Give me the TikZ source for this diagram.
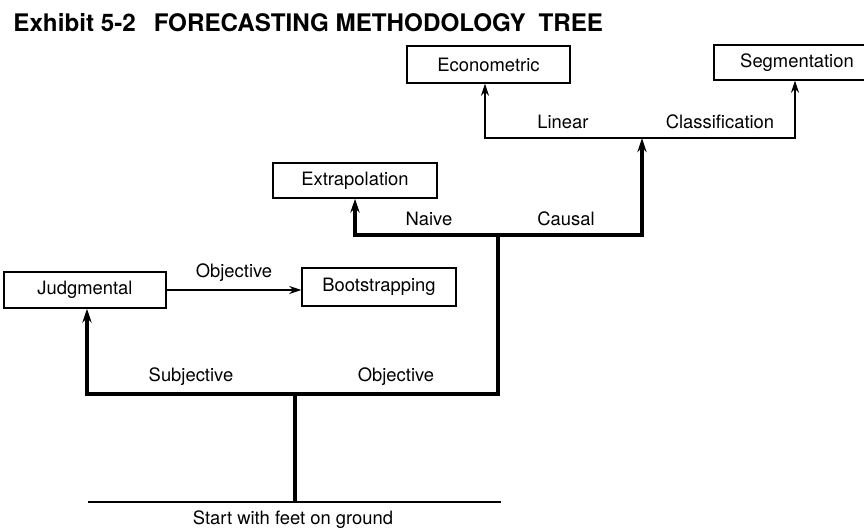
\documentclass[tikz,border=0pt]{standalone}
\usepackage{fontspec}
\setmainfont{TeX Gyre Heros}
\usetikzlibrary{arrows.meta}
\usetikzlibrary{calc}

\begin{document}
\begin{tikzpicture}[x={(0.5pt,0)},y={(0,-0.5pt)},
    box/.style={draw, line width=0.7pt, inner sep=0pt, font=\fontsize{9.2}{11}\selectfont},
    lbl/.style={inner sep=0pt, font=\fontsize{9.2}{11}\selectfont},
    trunk/.style={line width=2.4pt, line join=miter, arrows={-}, >={Stealth[length=7pt,width=4.6pt]}},
    branch/.style={line width=1.2pt, line join=miter, >={Stealth[length=6pt,width=4pt]}}]
        \useasboundingbox (0,0) rectangle (864,530);

        % title
        \node[anchor=base west, inner sep=0pt, font=\fontsize{12.1}{14}\selectfont\bfseries](title) at (13,32)
            {Exhibit 5-2\hspace{9pt}FORECASTING METHODOLOGY\hspace{3pt} TREE};

        % boxes
        \node[box, minimum width=81pt, minimum height=18pt](judg) at (85,290){Judgmental};
        \node[box, minimum width=77pt, minimum height=19pt](boot) at (379,287){Bootstrapping};
        \node[box, minimum width=82pt, minimum height=17.5pt](extra) at (355,180.5){Extrapolation};
        \node[box, minimum width=81.5pt, minimum height=18.5pt](econ) at (488.5,64.5){Econometric};
        \node[box, minimum width=83pt, minimum height=17.5pt](segm) at (797,62.5){Segmentation};

        % junctions
        \coordinate (gL) at (88,502);
        \coordinate (gR) at (501,502);
        \coordinate (root) at (295,502);
        \coordinate (j1) at (295,394);
        \coordinate (j1L) at (87,394);
        \coordinate (j1R) at (498,394);
        \coordinate (j2) at (498,235);
        \coordinate (j2L) at (355,235);
        \coordinate (j2R) at (642,235);
        \coordinate (j3) at (642,138);
        \coordinate (j3L) at (485,138);
        \coordinate (j3R) at (795,138);

        % ground and trunk
        \draw[line width=1pt] (gL) -- (gR);
        \draw[trunk] (root) -- (j1);
        \draw[trunk,<-] (judg.south -| j1L) -- (j1L) -- (j1R) -- (j2);
        \draw[trunk,<->] (extra.south -| j2L) -- (j2L) -- (j2R) -- (j3);
        \draw[branch,<->] (econ.south -| j3L) -- (j3L) -- (j3R) -- (segm.south -| j3R);
        \draw[branch,->] (judg.east) -- (judg.east -| boot.west);

        % labels
        \node[lbl](subj) at (191,377){Subjective};
        \node[lbl](obj) at (396,377){Objective};
        \node[lbl](objb) at (234,273){Objective};
        \node[lbl](naive) at (429,219){Naive};
        \node[lbl](causal) at (566,219){Causal};
        \node[lbl](linear) at (563,122){Linear};
        \node[lbl](classif) at (720,122){Classification};
        \node[lbl](ground) at (293,520){Start with feet on ground};

      \end{tikzpicture}
\end{document}
